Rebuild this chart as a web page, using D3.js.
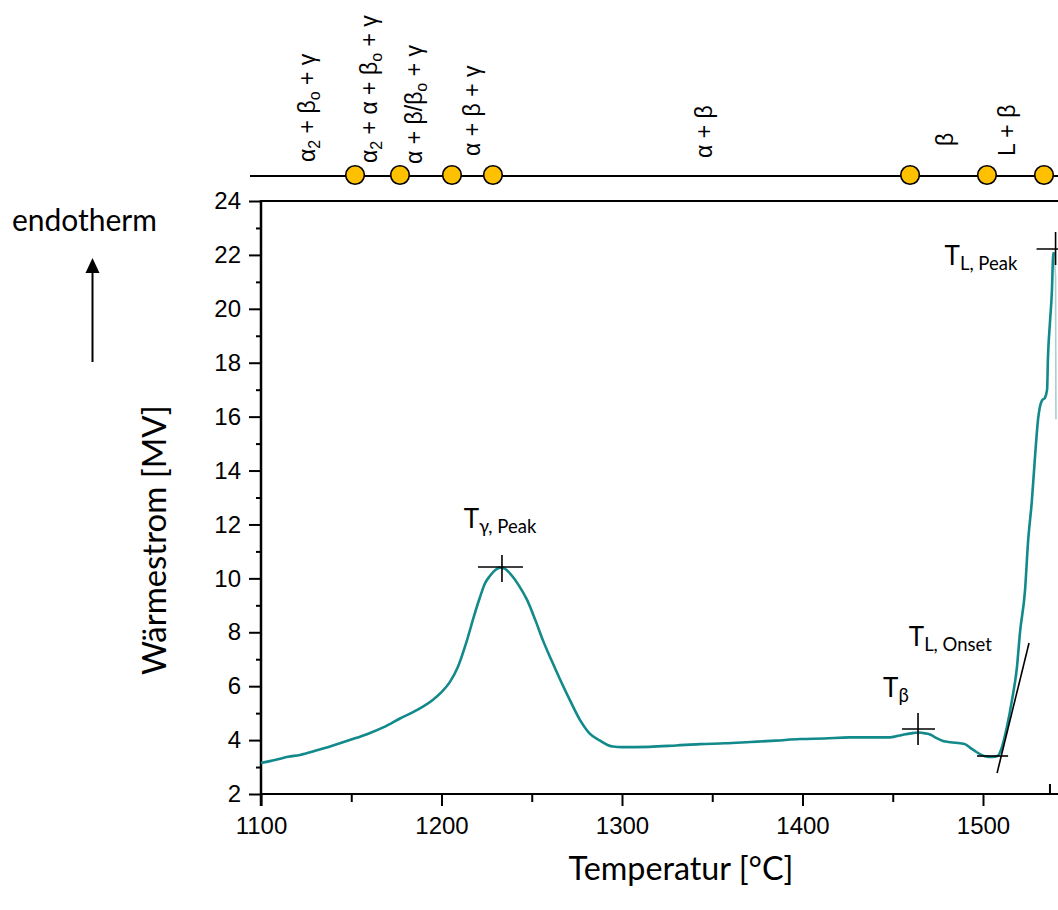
<!DOCTYPE html>
<html>
<head>
<meta charset="utf-8">
<script src="https://cdn.jsdelivr.net/npm/d3@7"></script>
<style>
  html, body { margin: 0; padding: 0; background: #fff; }
  svg { display: block; }
</style>
</head>
<body>
<svg id="chart" width="1058" height="910"></svg>
<script>
// DSC heating curve: heat flow versus temperature
const temps = [
  1100, 1105, 1110, 1115, 1121.6, 1130, 1139.9, 1150, 1158.7, 1168, 1177, 1186,
  1195.3, 1200, 1204.7, 1209, 1214.1, 1218, 1221.3, 1224, 1226.9, 1230, 1232.4,
  1235, 1237, 1239.6, 1243, 1247.4, 1252, 1256.2, 1261, 1265.7, 1271, 1276.7,
  1282, 1287.8, 1292, 1295, 1300, 1315, 1330, 1343, 1357, 1371, 1385, 1398.6,
  1412, 1426, 1436, 1448.5, 1455.7, 1460, 1464, 1468, 1471, 1474, 1477.8, 1482,
  1487.3, 1490, 1492.8, 1495, 1498.3, 1501, 1505, 1508.3, 1510.5, 1513.3, 1516.1,
  1518.8, 1520.5, 1523.3, 1524.9, 1527.1, 1528.8, 1530.5, 1532.7, 1534.3, 1535.5,
  1536, 1537.1, 1538.2, 1538.8, 1539.3
];
const heatFlow = [
  3.15, 3.22, 3.3, 3.38, 3.45, 3.6, 3.8, 4.02, 4.22, 4.48, 4.8, 5.1,
  5.5, 5.78, 6.16, 6.7, 7.7, 8.6, 9.3, 9.8, 10.1, 10.32, 10.4,
  10.36, 10.25, 10.05, 9.72, 9.2, 8.45, 7.7, 6.95, 6.25, 5.5, 4.75,
  4.25, 3.98, 3.82, 3.76, 3.74, 3.75, 3.8, 3.85, 3.88, 3.93, 3.98, 4.04,
  4.06, 4.1, 4.1, 4.1, 4.2, 4.25, 4.28, 4.25, 4.2, 4.08, 3.97, 3.92,
  3.88, 3.85, 3.72, 3.62, 3.48, 3.4, 3.37, 3.42, 3.74, 4.5, 5.5,
  6.7, 8.0, 9.57, 11.3, 12.9, 14.5, 15.9, 16.6, 16.7, 17.0,
  18.2, 19.5, 20.7, 21.9, 22.1
];
// signal just past the liquidus peak
const postPeakTemps = [1539.3, 1540.2, 1540.4];
const postPeakFlow = [22.1, 21.2, 15.9];

// axis ticks
const xMajorTicks = [1100, 1200, 1300, 1400, 1500];
const xMinorTicks = [1150, 1250, 1350, 1450];
const yMajorTicks = [2, 4, 6, 8, 10, 12, 14, 16, 18, 20, 22, 24];
const yMinorTicks = [3, 5, 7, 9, 11, 13, 15, 17, 19, 21, 23];

// phase field boundaries and labels along the top bar
const phaseBoundaryTemps = [1152.1, 1177.0, 1205.8, 1228.5, 1459.6, 1502.2, 1533.8];
const phaseLabelTemps = [1129.9, 1164.3, 1189.2, 1221.3, 1349.9, 1483.4, 1517.7];
// each label: list of [text, isSubscript]
const phaseLabelParts = [
  [["α", 0], ["2", 1], [" + β", 0], ["o", 1], [" + γ", 0]],
  [["α", 0], ["2", 1], [" + α + β", 0], ["o", 1], [" + γ", 0]],
  [["α + β/β", 0], ["o", 1], [" + γ", 0]],
  [["α + β + γ", 0]],
  [["α + β", 0]],
  [["β", 0]],
  [["L + β", 0]]
];
const phaseLabelBottoms = [162, 163, 164, 156, 158, 146, 156];

// characteristic temperatures
const markerMain = ["T", "T", "T"];
const markerSub = ["γ, Peak", "β", "L, Peak"];
const markerTemps = [1233.5, 1464.0, 1540.2];
const markerValues = [10.42, 4.41, 22.22];
// crosshair arms [left, right, up, down] and label offset [dx, dy, anchor]
const markerArms = [[24, 21, 12, 15], [16, 17, 16, 16], [19, 19, 17, 16]];
const markerLabelOffsets = [[-2, -39, "middle"], [-35, -32, "start"], [-111, 16, "start"]];

// liquidus onset construction
const onsetTemp = 1510.4;
const onsetValue = 3.41;
const baselineTemps = [1496.7, 1513.9];
const tangentTemps = [1507.8, 1525.5];
const tangentValues = [2.78, 7.60];

const svg = d3.select("#chart");
const W = 1058;

svg.append("rect").attr("width", W).attr("height", 910).attr("fill", "#fff");

const x = d3.scaleLinear().domain([1100, 1500]).range([261, 983]);
const y = d3.scaleLinear().domain([2, 24]).range([794, 201]);

const tickFont = "'Liberation Sans', Arial, sans-serif";
const textFont = "Lato, 'Open Sans', sans-serif";

// ---- axes ----
const xAxisG = svg.append("g").attr("transform", `translate(0,${y(2)})`);
xAxisG.call(d3.axisBottom(x).tickValues(xMajorTicks).tickSize(12).tickPadding(11).tickFormat(d3.format("d")));
xAxisG.append("g").call(d3.axisBottom(x).tickValues(xMinorTicks).tickSize(8).tickFormat(""));
xAxisG.selectAll(".domain").remove();
xAxisG.selectAll("line").attr("stroke", "#000").attr("stroke-width", 2);
xAxisG.selectAll("text").attr("font-family", tickFont).attr("font-size", 24).attr("fill", "#000");

const yAxisG = svg.append("g").attr("transform", `translate(${x(1100)},0)`);
yAxisG.call(d3.axisLeft(y).tickValues(yMajorTicks).tickSize(12).tickPadding(8).tickFormat(d3.format("d")));
yAxisG.append("g").call(d3.axisLeft(y).tickValues(yMinorTicks).tickSize(5).tickFormat(""));
yAxisG.selectAll(".domain").remove();
yAxisG.selectAll("line").attr("stroke", "#000").attr("stroke-width", 2);
yAxisG.selectAll("text").attr("font-family", tickFont).attr("font-size", 24).attr("fill", "#000");

// frame lines: bottom, left, top
svg.append("line").attr("x1", x(1100) - 1).attr("x2", W).attr("y1", y(2)).attr("y2", y(2))
  .attr("stroke", "#000").attr("stroke-width", 2);
svg.append("line").attr("x1", x(1100)).attr("x2", x(1100)).attr("y1", y(24) - 1).attr("y2", y(2) + 12)
  .attr("stroke", "#000").attr("stroke-width", 2.5);
svg.append("line").attr("x1", x(1100)).attr("x2", W).attr("y1", y(24)).attr("y2", y(24))
  .attr("stroke", "#000").attr("stroke-width", 2);
// short reference mark on the axis at the liquidus rise
svg.append("line").attr("x1", x(1537.1)).attr("x2", x(1537.1)).attr("y1", y(2)).attr("y2", y(2) - 10)
  .attr("stroke", "#000").attr("stroke-width", 2);

// ---- curve ----
const line = d3.line().x(d => x(d[0])).y(d => y(d[1]));
svg.append("path")
  .datum(postPeakTemps.map((t, i) => [t, postPeakFlow[i]]))
  .attr("fill", "none")
  .attr("stroke", "#a9cfcf")
  .attr("stroke-width", 1.6)
  .attr("d", line);
svg.append("path")
  .datum(temps.map((t, i) => [t, heatFlow[i]]))
  .attr("fill", "none")
  .attr("stroke", "#12898a")
  .attr("stroke-width", 2.6)
  .attr("stroke-linejoin", "round")
  .attr("d", line.curve(d3.curveMonotoneX));

// ---- crosshair markers ----
markerTemps.forEach((t, i) => {
  const cx = x(t), cy = y(markerValues[i]);
  const a = markerArms[i];
  const g = svg.append("g").attr("stroke", "#000").attr("stroke-width", 1.6);
  g.append("line").attr("x1", cx - a[0]).attr("x2", cx + a[1]).attr("y1", cy).attr("y2", cy);
  g.append("line").attr("x1", cx).attr("x2", cx).attr("y1", cy - a[2]).attr("y2", cy + a[3]);
  const o = markerLabelOffsets[i];
  const txt = svg.append("text")
    .attr("x", cx + o[0]).attr("y", cy + o[1])
    .attr("text-anchor", o[2])
    .attr("font-family", textFont).attr("fill", "#000");
  txt.append("tspan").attr("font-size", 26).text(markerMain[i]);
  txt.append("tspan").attr("font-size", 18.5).attr("dy", 5).text(markerSub[i]);
});

// onset: baseline segment and inflection tangent
svg.append("line")
  .attr("x1", x(baselineTemps[0])).attr("x2", x(baselineTemps[1]))
  .attr("y1", y(onsetValue)).attr("y2", y(onsetValue))
  .attr("stroke", "#000").attr("stroke-width", 1.6);
svg.append("line")
  .attr("x1", x(tangentTemps[0])).attr("y1", y(tangentValues[0]))
  .attr("x2", x(tangentTemps[1])).attr("y2", y(tangentValues[1]))
  .attr("stroke", "#000").attr("stroke-width", 1.6);
{
  const t = svg.append("text")
    .attr("x", x(onsetTemp) - 93).attr("y", y(onsetValue) - 110)
    .attr("font-family", textFont).attr("fill", "#000");
  t.append("tspan").attr("font-size", 26).text("T");
  t.append("tspan").attr("font-size", 18.5).attr("dy", 5).text("L, Onset");
}

// ---- phase field bar ----
const barY = 176;
svg.append("line").attr("x1", 250).attr("x2", W).attr("y1", barY).attr("y2", barY)
  .attr("stroke", "#000").attr("stroke-width", 2);
svg.selectAll("circle.phase")
  .data(phaseBoundaryTemps)
  .join("circle")
  .attr("class", "phase")
  .attr("cx", d => x(d)).attr("cy", barY - 1)
  .attr("r", 9.3)
  .attr("fill", "#ffc000").attr("stroke", "#000").attr("stroke-width", 1.6);

phaseLabelTemps.forEach((t, i) => {
  const cx = x(t), by = phaseLabelBottoms[i];
  const txt = svg.append("text")
    .attr("transform", `translate(${cx},${by}) rotate(-90)`)
    .attr("dy", "0.35em")
    .attr("font-family", tickFont).attr("font-size", 23).attr("fill", "#000");
  let shifted = 0;
  phaseLabelParts[i].forEach(([s, sub]) => {
    const ts = txt.append("tspan").text(s);
    if (sub) {
      ts.attr("font-size", 16).attr("dy", 5 - shifted);
      shifted = 5;
    } else {
      ts.attr("dy", -shifted);
      shifted = 0;
    }
  });
});

// ---- titles ----
function fitText(sel, nominal, target) {
  sel.attr("font-size", nominal);
  const len = sel.node().getComputedTextLength();
  sel.attr("font-size", nominal * target / len);
}

const xTitle = svg.append("text")
  .attr("x", 681).attr("y", 880)
  .attr("text-anchor", "middle")
  .attr("font-family", textFont).attr("fill", "#000")
  .text("Temperatur [°C]");
fitText(xTitle, 30, 225);

const yTitle = svg.append("text")
  .attr("transform", "translate(166,540) rotate(-90)")
  .attr("text-anchor", "middle")
  .attr("font-family", textFont).attr("fill", "#000")
  .text("Wärmestrom [MV]");
fitText(yTitle, 30, 270);

const endo = svg.append("text")
  .attr("x", 12).attr("y", 231)
  .attr("font-family", textFont).attr("fill", "#000")
  .text("endotherm");
fitText(endo, 26, 145);

// endothermic direction arrow
svg.append("line").attr("x1", 92.5).attr("x2", 92.5).attr("y1", 362).attr("y2", 270)
  .attr("stroke", "#000").attr("stroke-width", 2);
svg.append("path")
  .attr("d", "M92.5,258 L85.5,273 L99.5,273 Z")
  .attr("fill", "#000");
</script>
</body>
</html>
